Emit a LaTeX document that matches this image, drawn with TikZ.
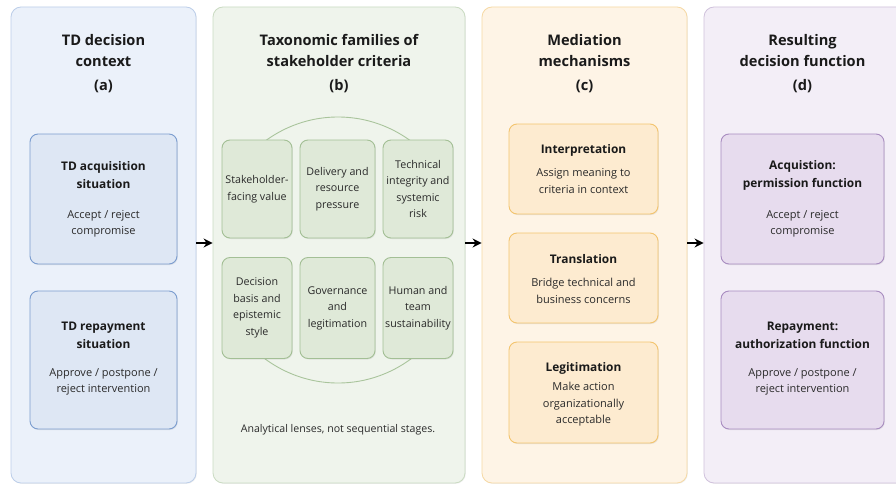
\documentclass[tikz,border=0pt]{standalone}
\usepackage{fontspec}
\setmainfont{Open Sans}
\usetikzlibrary{arrows.meta,shadows}
\definecolor{paFill}{HTML}{EBF1FA}
\definecolor{paLine}{HTML}{BCCEE9}
\definecolor{baFill}{HTML}{DEE7F4}
\definecolor{baLine}{HTML}{7B9DCF}
\definecolor{pbFill}{HTML}{EFF4EC}
\definecolor{pbLine}{HTML}{CADBC2}
\definecolor{bbFill}{HTML}{DFE9D8}
\definecolor{bbLine}{HTML}{A3BF95}
\definecolor{circLine}{HTML}{A9C49C}
\definecolor{pcFill}{HTML}{FEF4E6}
\definecolor{pcLine}{HTML}{F6D9A4}
\definecolor{bcFill}{HTML}{FDEBD0}
\definecolor{bcLine}{HTML}{F3C46E}
\definecolor{pdFill}{HTML}{F3EEF7}
\definecolor{pdLine}{HTML}{D0C2DC}
\definecolor{bdFill}{HTML}{E7DCEE}
\definecolor{bdLine}{HTML}{A88CC0}
\definecolor{ink}{HTML}{1A1A1A}
\definecolor{subink}{HTML}{2A2A2A}
\newcommand\ptfont{\fontsize{14.6}{21}\selectfont\bfseries}
\newcommand\btfont{\fontsize{11.9}{18}\selectfont\bfseries}
\newcommand\sbfont{\fontsize{11}{16}\selectfont}
\newcommand\gbfont{\fontsize{10.7}{16.5}\selectfont}
\begin{document}
\begin{tikzpicture}[x=1pt,y=-1pt,
  panel/.style={draw, line width=0.8pt, rounded corners=10pt, minimum height=476pt, inner sep=0pt,
    drop shadow={opacity=0.12, shadow xshift=0.8pt, shadow yshift=-0.8pt}},
  ibox/.style={draw, line width=0.9pt, rounded corners=8pt, inner sep=0pt,
    drop shadow={opacity=0.16, shadow xshift=0.8pt, shadow yshift=-1pt}},
  ptitle/.style={align=center, font=\ptfont, text=ink, inner sep=0pt},
  btitle/.style={align=center, font=\btfont, text=ink, inner sep=0pt},
  bsub/.style={align=center, font=\sbfont, text=subink, inner sep=0pt},
  gtext/.style={align=center, font=\gbfont, text=subink},
  arr/.style={line width=1.5pt, -{Stealth[length=9pt,width=9pt]}}
]
\useasboundingbox (0,0) rectangle (896,487);
\fill[white] (0,0) rectangle (896,487);

% ---------- panels ----------
\node[panel, fill=paFill, draw=paLine, minimum width=185pt] (pa) at (103.5,245) {};
\node[panel, fill=pbFill, draw=pbLine, minimum width=252pt] (pb) at (339,245) {};
\node[panel, fill=pcFill, draw=pcLine, minimum width=205pt] (pc) at (584.5,245) {};
\node[panel, fill=pdFill, draw=pdLine, minimum width=206pt] (pd) at (807,245) {};

% ---------- panel titles ----------
\node[ptitle] (ta) at (103.5,50.5) {TD decision\\context};
\node[ptitle] (la) at (103.5,86) {(a)};
\node[ptitle] (tb) at (339,50.5) {Taxonomic families of\\stakeholder criteria};
\node[ptitle] (lb) at (339,86) {(b)};
\node[ptitle] (tc) at (584.5,50.5) {Mediation\\mechanisms};
\node[ptitle] (lc) at (584.5,86) {(c)};
\node[ptitle] (td) at (802.5,50.5) {Resulting\\decision function};
\node[ptitle] (ld) at (802.5,86) {(d)};

% ---------- panel (a) ----------
\node[ibox, fill=baFill, draw=baLine, minimum width=147pt, minimum height=130pt] (a1) at (103.5,199) {};
\node[btitle] (a1t) at (103.5,175) {TD acquisition\\situation};
\node[bsub] (a1s) at (103.5,224) {Accept / reject\\compromise};
\node[ibox, fill=baFill, draw=baLine, minimum width=147pt, minimum height=138pt] (a2) at (103.5,360) {};
\node[btitle] (a2t) at (103.5,335) {TD repayment\\situation};
\node[bsub] (a2s) at (103.5,382) {Approve / postpone /\\reject intervention};

% ---------- panel (b) ----------
\begin{scope}
  \clip (200,100) rectangle (480,141);
  \draw[circLine, line width=0.9pt] (338,250) ellipse [x radius=127pt, y radius=133pt];
\end{scope}
\begin{scope}
  \clip (200,357) rectangle (480,400);
  \draw[circLine, line width=0.9pt] (338,250) ellipse [x radius=127pt, y radius=133pt];
\end{scope}
\begin{scope}[every node/.append style={ibox, fill=bbFill, draw=bbLine, gtext}]
\node[minimum width=70pt, minimum height=98pt] (g1) at (257,189) {Stakeholder-\\facing value};
\node[minimum width=75pt, minimum height=98pt] (g2) at (337.5,189) {Delivery and\\resource\\pressure};
\node[minimum width=70pt, minimum height=98pt] (g3) at (418,189) {Technical\\integrity and\\systemic\\risk};
\node[minimum width=70pt, minimum height=101pt] (g4) at (257,308) {Decision\\basis and\\epistemic\\style};
\node[minimum width=75pt, minimum height=101pt] (g5) at (337.5,308) {Governance\\and\\legitimation};
\node[minimum width=70pt, minimum height=101pt] (g6) at (418,308) {Human and\\team\\sustainability};
\end{scope}
\node[bsub, font=\fontsize{10.6}{14}\selectfont] (cap) at (338,430) {Analytical lenses, not sequential stages.};

% ---------- panel (c) ----------
\node[ibox, fill=bcFill, draw=bcLine, minimum width=149pt, minimum height=90pt] (c1) at (583.5,169) {};
\node[btitle] (c1t) at (583.5,150) {Interpretation};
\node[bsub, font=\fontsize{11}{17}\selectfont] (c1s) at (583.5,181.5) {Assign meaning to\\criteria in context};
\node[ibox, fill=bcFill, draw=bcLine, minimum width=149pt, minimum height=90pt] (c2) at (583.5,278) {};
\node[btitle] (c2t) at (583.5,259) {Translation};
\node[bsub, font=\fontsize{11}{17}\selectfont] (c2s) at (583.5,291) {Bridge technical and\\business concerns};
\node[ibox, fill=bcFill, draw=bcLine, minimum width=149pt, minimum height=101pt] (c3) at (583.5,392.5) {};
\node[btitle] (c3t) at (583.5,368) {Legitimation};
\node[bsub, font=\fontsize{11}{16.5}\selectfont] (c3s) at (583.5,404.5) {Make action\\organizationally\\acceptable};

% ---------- panel (d) ----------
\node[ibox, fill=bdFill, draw=bdLine, minimum width=163pt, minimum height=130pt] (d1) at (802.5,199) {};
\node[btitle] (d1t) at (802.5,175) {Acquistion:\\permission function};
\node[bsub] (d1s) at (802.5,224) {Accept / reject\\compromise};
\node[ibox, fill=bdFill, draw=bdLine, minimum width=163pt, minimum height=138pt] (d2) at (802.5,360) {};
\node[btitle] (d2t) at (802.5,335) {Repayment:\\authorization function};
\node[bsub] (d2s) at (802.5,382) {Approve / postpone /\\reject intervention};

% ---------- arrows ----------
\coordinate (y0) at (0,243);
\draw[arr] (pa.east |- y0) -- (pb.west |- y0);
\draw[arr] (pb.east |- y0) -- (pc.west |- y0);
\draw[arr] (pc.east |- y0) -- (pd.west |- y0);
\end{tikzpicture}
\end{document}
